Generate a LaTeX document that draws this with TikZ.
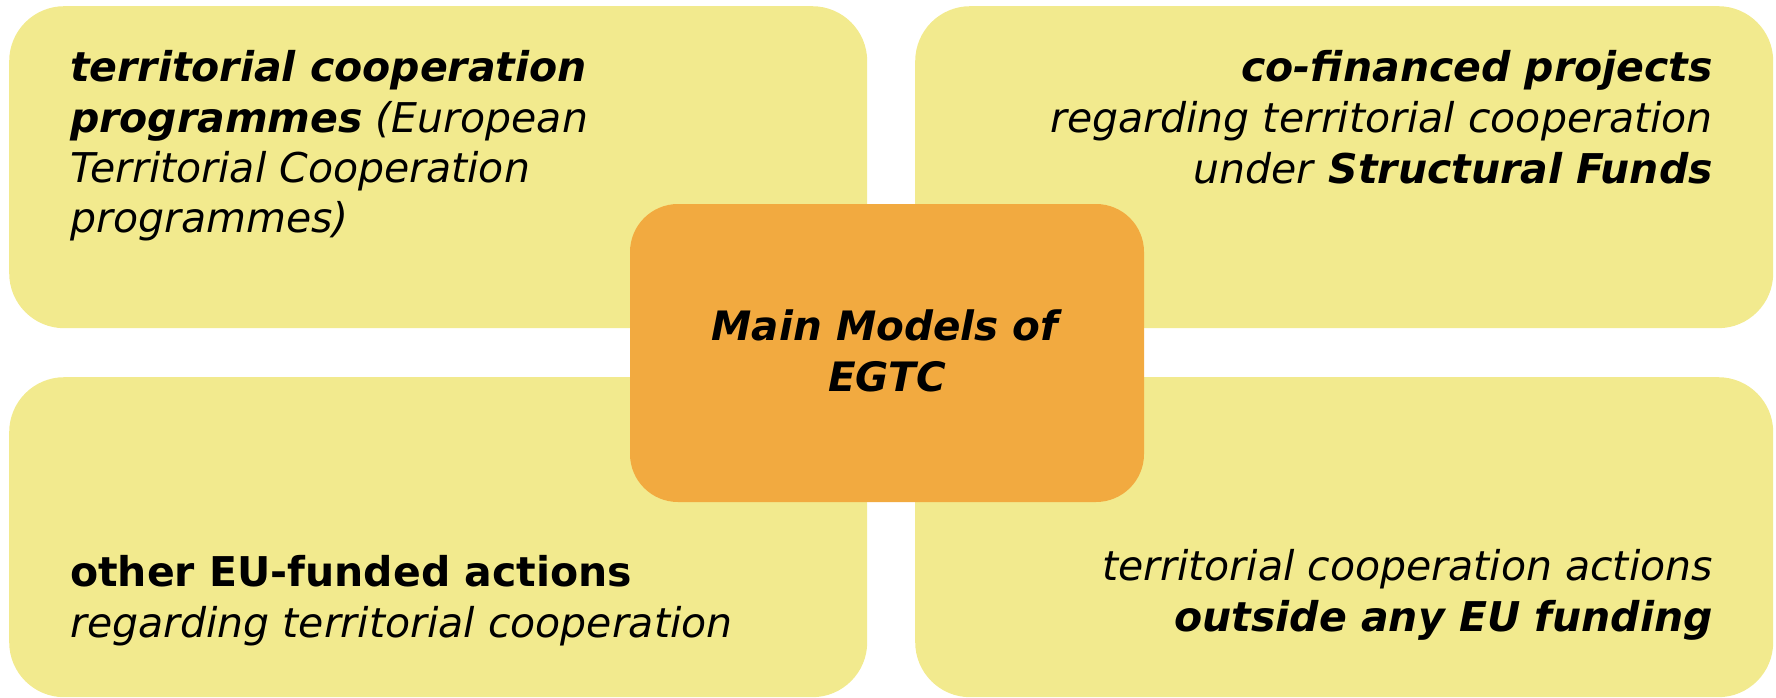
\documentclass[tikz,border=0pt]{standalone}
\usepackage{fontspec}
\setmainfont{DejaVu Sans}
\definecolor{boxyellow}{RGB}{242,234,142}
\definecolor{boxorange}{RGB}{242,170,64}
\tikzset{
  quad/.style={fill=boxyellow, draw=none, rounded corners=55pt, minimum width=858pt, minimum height=322pt, anchor=north west, inner sep=0pt},
  hub/.style={fill=boxorange, draw=none, rounded corners=48pt, minimum width=514pt, minimum height=298pt, inner sep=0pt},
  lineL/.style={anchor=base west, inner sep=0pt, font=\fontsize{41}{49}\selectfont},
  lineR/.style={anchor=base east, inner sep=0pt, font=\fontsize{41}{49}\selectfont},
  lineC/.style={anchor=base, inner sep=0pt, font=\fontsize{40.5}{49}\selectfont}
}
\newcommand{\bi}[1]{\textbf{\textit{#1}}}
\begin{document}
\begin{tikzpicture}[x=1pt,y=-1pt]
\useasboundingbox (0,0) rectangle (1776,698);
\node[quad] (tl) at (9,6) {};
\node[quad] (tr) at (915,6) {};
\node[quad, minimum height=320pt] (bl) at (9,377) {};
\node[quad, minimum height=320pt] (br) at (915,377) {};
\node[hub] (hub) at (887,353) {};
% top left
\node[lineL] (tl1) at (70,82) {\bi{territorial cooperation}};
\node[lineL] (tl2) at (70,132) {\bi{programmes} \textit{(European}};
\node[lineL] (tl3) at (70,182) {\textit{Territorial Cooperation}};
\node[lineL] (tl4) at (70,232) {\textit{programmes)}};
% top right
\node[lineR] (tr1) at (1713,82) {\bi{co-financed projects}};
\node[lineR] (tr2) at (1713,132) {\textit{regarding territorial cooperation}};
\node[lineR] (tr3) at (1713,183) {\textit{under }\bi{Structural Funds}};
% bottom left
\node[lineL] (bl1) at (70,586) {\textbf{other EU-funded actions}};
\node[lineL] (bl2) at (70,637) {\textit{regarding territorial cooperation}};
% bottom right
\node[lineR] (br1) at (1713,580) {\textit{territorial cooperation actions}};
\node[lineR] (br2) at (1713,631) {\bi{outside any EU funding}};
% centre
\node[lineC] (c1) at (887,340) {\bi{Main Models of}};
\node[lineC] (c2) at (887,391) {\bi{EGTC}};
\end{tikzpicture}
\end{document}
